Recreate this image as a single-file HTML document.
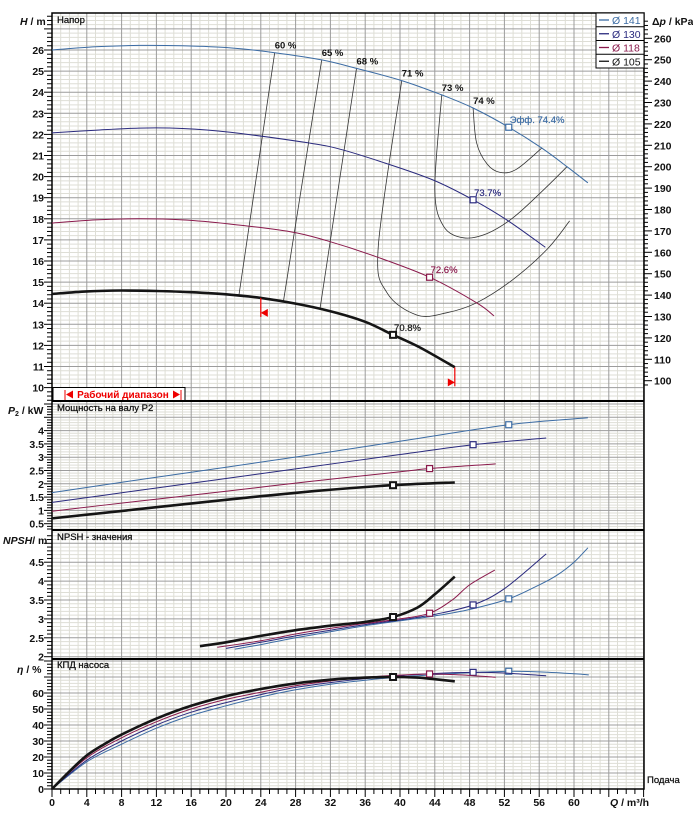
<!DOCTYPE html>
<html><head><meta charset="utf-8"><style>
html,body{margin:0;padding:0;background:#fff;}
svg{display:block;font-family:"Liberation Sans",Arial,sans-serif;}
</style></head><body>
<svg id="c" width="693" height="819" viewBox="0 0 693 819" xmlns="http://www.w3.org/2000/svg"></svg>
<script>
// ---- data ----
const seriesNames=["Ø 141","Ø 130","Ø 118","Ø 105"];
const seriesColors=["#3c6ca4","#2a2a7e","#8a1a4c","#151515"];
const headQ141=[0,5,10,15,20.5,25.6,31,35,40.2,44.8,48.4,52.5,56.3,59.2,61.6];
const headH141=[26.0,26.15,26.22,26.2,26.1,25.87,25.53,25.13,24.55,23.87,23.25,22.34,21.35,20.47,19.7];
const headQ130=[0,5,10,15,20.5,29.4,33.1,38.3,43.8,48.4,52.3,56.7];
const headH130=[22.07,22.2,22.3,22.28,22.1,21.6,21.3,20.64,19.84,18.9,17.94,16.65];
const headQ118=[0,5,10,15,20.5,27.4,31.6,37.3,43.4,48.8,50.8];
const headH118=[17.8,17.95,18.0,17.95,17.75,17.39,16.96,16.2,15.23,14.02,13.4];
const headQ105=[0,4,8,12,16,20,24,28,32,36,39.2,42.3,46.3];
const headH105=[14.44,14.56,14.6,14.58,14.52,14.42,14.25,13.98,13.62,13.12,12.5,11.9,10.96];
const powQ141=[0,10,20,30,40,52.5,61.6];   const powP141=[1.67,2.15,2.62,3.1,3.6,4.22,4.48];
const powQ130=[0,10,20,30,40,48.4,56.8];   const powP130=[1.3,1.75,2.2,2.65,3.1,3.47,3.72];
const powQ118=[0,10,20,30,40,43.6,51];     const powP118=[0.97,1.35,1.72,2.1,2.45,2.58,2.75];
const powQ105=[0,10,20,30,39.3,46.3];      const powP105=[0.7,1.05,1.4,1.72,1.95,2.05];
const npshQ141=[21,24,28,32,36,40,44,48,52.5,56,58,60,61.6]; const npshN141=[2.2,2.32,2.5,2.66,2.82,2.95,3.08,3.25,3.53,3.9,4.15,4.5,4.88];
const npshQ130=[20,24,28,32,36,40,44,48.4,52,56.8]; const npshN130=[2.22,2.38,2.55,2.7,2.85,2.97,3.12,3.37,3.8,4.72];
const npshQ118=[19,24,28,32,36,40,43.4,46,48,50.9]; const npshN118=[2.25,2.42,2.6,2.75,2.88,3.0,3.15,3.5,3.9,4.29];
const npshQ105=[17,20,24,28,32,36,39.2,42,44,46.3]; const npshN105=[2.28,2.38,2.55,2.7,2.82,2.92,3.05,3.3,3.65,4.12];
const effQ141=[0,4,8,12,16,20,24,28,32,36,40,44,48,52.5,56,60,61.7]; const effE141=[0,17,28,38,46,52,57.5,62,65.5,68,70,71.5,72.7,73.6,73.2,72,71.3];
const effQ130=[0,4,8,12,16,20,24,28,32,36,40,44,48.4,52,56.8]; const effE130=[0,18,30,40,48,54,59,63.5,66.5,69,70.8,72.2,72.9,72.5,70.8];
const effQ118=[0,4,8,12,16,20,24,28,32,36,40,43.4,47,51]; const effE118=[0,19.5,32,42,50,56,60.5,64.5,67.5,69.8,71.2,71.9,71.3,69.8];
const effQ105=[0,2,4,6,8,12,16,20,24,28,32,36,39.2,42,44,46.3]; const effE105=[0,11,21,28,34,44,52,58,62.5,66,68.3,69.6,70,69.6,68.6,67.3];
const bepQ=[52.5,48.4,43.4,39.2];
const bepLabels=["Эфф.  74.4%","73.7%","72.6%","70.8%"];
const isoLabels=["60 %","65 %","68 %","71 %","73 %","74 %"];
const iso60Q=[25.6,21.5]; const iso60H=[25.87,14.4];
const iso65Q=[31,26.6]; const iso65H=[25.53,14.08];
const iso68Q=[35,30.8]; const iso68H=[25.13,13.74];
const iso71Q=[40.2,37.5,38.5,42,45.4,48.8,53,56.9,59.5]; const iso71H=[24.55,16.7,14.5,13.43,13.55,14.02,15.13,16.55,17.9];
const iso73Q=[44.8,44.0,45,47.3,50,53,56.5,59.2]; const iso73H=[23.87,19.4,17.65,17.1,17.3,18.05,19.37,20.47];
const iso74Q=[48.4,48.8,50,51.5,53.4,56.3]; const iso74H=[23.25,21.6,20.6,20.2,20.35,21.35];
const qTicks=[0,4,8,12,16,20,24,28,32,36,40,44,48,52,56,60];
const hTicks=[10,11,12,13,14,15,16,17,18,19,20,21,22,23,24,25,26];
const pTicks=[0.5,1,1.5,2,2.5,3,3.5,4];
const nTicks=[2,2.5,3,3.5,4,4.5];
const eTicks=[0,10,20,30,40,50,60];
const kpaTicks=[100,110,120,130,140,150,160,170,180,190,200,210,220,230,240,250,260];
const rangeQ=[24.0,46.3];

// ---- scales ----
const L=52,R=644,T=13,B=789;
const X=q=>L+q*8.7;
const yH=h=>50-(h-26)*21.1;
const yP=p=>537-26.6*p;
const yN=n=>656.7-37.8*(n-2);
const yE=e=>789-1.6*e;
const yK=k=>38.3+(260-k)*2.14;
const panels=[{t:T,b:401,y:yH,minor:0.2,major:1,lo:9,hi:28},{t:401,b:530,y:yP,minor:0.1,major:0.5,lo:0,hi:5.2},{t:530,b:659,y:yN,minor:0.1,major:0.5,lo:1.9,hi:5.4},{t:659,b:789,y:yE,minor:2,major:10,lo:0,hi:82}];
const NS="http://www.w3.org/2000/svg";
const svg=document.getElementById('c');
function mk(tag,attrs,parent){const e=document.createElementNS(NS,tag);for(const k in attrs)e.setAttribute(k,attrs[k]);(parent||svg).appendChild(e);return e;}
function txt(s,x,y,attrs,parent){const e=mk('text',Object.assign({x:x,y:y},attrs),parent);e.textContent=s;return e;}
function pathD(pts){if(pts.length<3){return 'M'+pts.map(p=>p[0].toFixed(1)+','+p[1].toFixed(1)).join('L');}
 let d='M'+pts[0][0]+','+pts[0][1];
 for(let i=0;i<pts.length-1;i++){const p0=pts[i-1]||pts[i],p1=pts[i],p2=pts[i+1],p3=pts[i+2]||p2;
  const c1=[p1[0]+(p2[0]-p0[0])/6,p1[1]+(p2[1]-p0[1])/6],c2=[p2[0]-(p3[0]-p1[0])/6,p2[1]-(p3[1]-p1[1])/6];
  d+='C'+c1[0].toFixed(1)+','+c1[1].toFixed(1)+' '+c2[0].toFixed(1)+','+c2[1].toFixed(1)+' '+p2[0].toFixed(1)+','+p2[1].toFixed(1);}
 return d;}
function interp(qs,vs,q){for(let i=0;i<qs.length-1;i++){if(q>=qs[i]&&q<=qs[i+1]){const t=(q-qs[i])/(qs[i+1]-qs[i]);return vs[i]+t*(vs[i+1]-vs[i]);}}return vs[vs.length-1];}

// ---- grid ----
const grid=mk('g',{});


panels.forEach(p=>{
 for(let q=0;q<=68;q++){ if(q%4) mk('line',{x1:X(q),x2:X(q),y1:p.t,y2:p.b,stroke:'#deded6','stroke-width':1},grid);}
 const n=Math.round((p.hi-p.lo)/p.minor);
 for(let i=0;i<=n;i++){const v=p.lo+i*p.minor;const y=p.y(v);if(y<=p.t||y>=p.b)continue;
  const isMaj=Math.abs(v/p.major-Math.round(v/p.major))<1e-6; if(!isMaj) mk('line',{x1:L,x2:R,y1:y,y2:y,stroke:'#deded6','stroke-width':1},grid);}
 for(let q=0;q<=68;q+=4) mk('line',{x1:X(q),x2:X(q),y1:p.t,y2:p.b,stroke:'#9c9c9c','stroke-width':1},grid);
 for(let i=0;i<=n;i++){const v=p.lo+i*p.minor;const y=p.y(v);if(y<=p.t||y>=p.b)continue;
  const isMaj=Math.abs(v/p.major-Math.round(v/p.major))<1e-6; if(isMaj) mk('line',{x1:L,x2:R,y1:y,y2:y,stroke:'#9c9c9c','stroke-width':1},grid);}
 for(let i=0;i<=n;i++){const v=p.lo+i*p.minor;const y=p.y(v);if(y<p.t+2||y>p.b)continue;
  const isMaj=Math.abs(v/p.major-Math.round(v/p.major))<1e-6;
  mk('line',{x1:isMaj?44:47,x2:L,y1:y,y2:y,stroke:'#000','stroke-width':1});}
});
for(let k=98;k<=268;k+=2){const y=yK(k);if(y<T+2||y>399)continue;mk('line',{x1:R,x2:(k%10===0)?652:648,y1:y,y2:y,stroke:'#000','stroke-width':1});}
for(let q=0;q<=68;q++){mk('line',{x1:X(q),x2:X(q),y1:B,y2:B+(q%4?5:8),stroke:'#000','stroke-width':1});}

// ---- frame ----
mk('rect',{x:L,y:T,width:R-L,height:B-T,fill:'none',stroke:'#000','stroke-width':1.5});
[401,530,659].forEach(y=>mk('line',{x1:L,x2:R,y1:y,y2:y,stroke:'#000','stroke-width':2}));

// ---- tick labels ----
const tl={'font-size':10.5,'font-weight':'bold','text-anchor':'end',fill:'#111'};
hTicks.forEach(v=>{const e=txt(String(v),44,yH(v)+4,tl);});
pTicks.forEach(v=>{const e=txt(String(v),44,yP(v)+4,tl);});
nTicks.forEach(v=>{const e=txt(String(v),44,yN(v)+4,tl);});
eTicks.forEach(v=>{const e=txt(String(v),44,yE(v)+4,tl);});
kpaTicks.forEach(v=>{const e=txt(String(v),654,yK(v)+4,{'font-size':10.5,'font-weight':'bold',fill:'#111'});});
qTicks.forEach(v=>{const e=txt(String(v),X(v),806,{'font-size':10.5,'font-weight':'bold','text-anchor':'middle',fill:'#111'});});

// axis titles & panel titles
const at={'font-size':10.5,'font-weight':'bold',fill:'#111'};
let e;
e=txt('',20,25,at);e.innerHTML='<tspan font-style="italic">H</tspan> / m';
e=txt('',8,414,at);e.innerHTML='<tspan font-style="italic">P</tspan><tspan font-size="7" dy="2">2</tspan><tspan dy="-2"> / kW</tspan>';
e=txt('',3,544,at);e.innerHTML='<tspan font-style="italic">NPSH</tspan>/ m';
e=txt('',17,673,at);e.innerHTML='<tspan font-style="italic">η</tspan> / %';
e=txt('',652,25,at);e.innerHTML='Δ<tspan font-style="italic">p</tspan> / kPa';
e=txt('',610,806,at);e.innerHTML='<tspan font-style="italic">Q</tspan> / m³/h';
const pt={'font-size':9.5,fill:'#111','stroke':'#111','stroke-width':0.25};
e=txt('Напор',57,23,pt);
e=txt('Мощность на валу P2',57,411,pt);
e=txt('NPSH - значения',57,540,pt);
e=txt('КПД насоса',57,668,pt);
e=txt('Подача',647,783,pt);

// iso-efficiency lines
const isoQ=[iso60Q,iso65Q,iso68Q,iso71Q,iso73Q,iso74Q], isoH=[iso60H,iso65H,iso68H,iso71H,iso73H,iso74H];
isoQ.forEach((qs,i)=>{const pts=qs.map((q,j)=>[X(q),yH(isoH[i][j])]);
 const p=mk('path',{d:pathD(pts),fill:'none',stroke:'#333','stroke-width':0.8});
 
 
 const l=txt(isoLabels[i],X(qs[0]),yH(isoH[i][0])-4,{'font-size':9.5,'font-weight':'bold',fill:'#111'});
 
 
});

// series curves
const HQ=[headQ141,headQ130,headQ118,headQ105],HH=[headH141,headH130,headH118,headH105];
const PQ=[powQ141,powQ130,powQ118,powQ105],PP=[powP141,powP130,powP118,powP105];
const NQ=[npshQ141,npshQ130,npshQ118,npshQ105],NN=[npshN141,npshN130,npshN118,npshN105];
const EQ=[effQ141,effQ130,effQ118,effQ105],EE=[effE141,effE130,effE118,effE105];
function curve(qs,vs,yf,i,name){const pts=qs.map((q,j)=>[X(q),yf(vs[j])]);
 const p=mk('path',{d:pathD(pts),fill:'none',stroke:seriesColors[i],'stroke-width':i===3?2.6:1});
 
 }
function marker(x,y,i){const r=mk('rect',{x:x-3,y:y-3,width:6,height:6,fill:'#fff',stroke:seriesColors[i],'stroke-width':i===3?2:1.2});
 
 }
for(let i=0;i<4;i++){
 curve(HQ[i],HH[i],yH,i,'head-curve');
 curve(PQ[i],PP[i],yP,i,'power-curve');
 curve(NQ[i],NN[i],yN,i,'npsh-curve');
 curve(EQ[i],EE[i],yE,i,'efficiency-curve');
 const q=bepQ[i];
 marker(X(q),yH(interp(HQ[i],HH[i],q)),i);
 marker(X(q),yP(interp(PQ[i],PP[i],q)),i);
 marker(X(q),yN(interp(NQ[i],NN[i],q)),i);
 marker(X(q),yE(interp(EQ[i],EE[i],q)),i);
 const l=txt(bepLabels[i],X(q)+1,yH(interp(HQ[i],HH[i],q))-4,{'font-size':9.5,fill:seriesColors[i],'stroke':seriesColors[i],'stroke-width':0.2});
 
 
}

// operating range markers
[0,1].forEach(k=>{const q=rangeQ[k];const x=X(q);const y=yH(interp(headQ105,headH105,q));
 const g=mk('g',{});
 
 
 mk('line',{x1:x,x2:x,y1:y,y2:y+19,stroke:'#e00','stroke-width':1.2},g);
 const yy=y+15;
 mk('polygon',{points:k?`${x},${yy} ${x-7},${yy-4} ${x-7},${yy+4}`:`${x},${yy} ${x+7},${yy-4} ${x+7},${yy+4}`,fill:'#e00'},g);
});

// operating range box
const rb=mk('g',{});


mk('rect',{x:53,y:387.5,width:132,height:13,fill:'#fff',stroke:'#000','stroke-width':1},rb);
mk('line',{x1:65,x2:65,y1:390,y2:400,stroke:'#e00','stroke-width':1},rb);
mk('polygon',{points:'66,394.5 73,390.5 73,398.5',fill:'#e00'},rb);
mk('polygon',{points:'180,394.5 173,390.5 173,398.5',fill:'#e00'},rb);
mk('line',{x1:181,x2:181,y1:390,y2:400,stroke:'#e00','stroke-width':1},rb);
txt('Рабочий диапазон',123,398,{'font-size':10,'font-weight':'bold','text-anchor':'middle',fill:'#e00'},rb);

// legend
const lg=mk('g',{});


mk('rect',{x:596,y:13,width:48,height:55,fill:'#fff',stroke:'#000','stroke-width':1},lg);
seriesNames.forEach((s,i)=>{const y=13+i*13.75;
 const g=mk('g',{},lg);
 
 
 if(i) mk('line',{x1:596,x2:644,y1:y,y2:y,stroke:'#000','stroke-width':1},g);
 mk('line',{x1:599,x2:609,y1:y+7,y2:y+7,stroke:seriesColors[i],'stroke-width':1.3},g);
 txt(s,612,y+11,{'font-size':10.5,fill:seriesColors[i]},g);
});
</script>
</body></html>
